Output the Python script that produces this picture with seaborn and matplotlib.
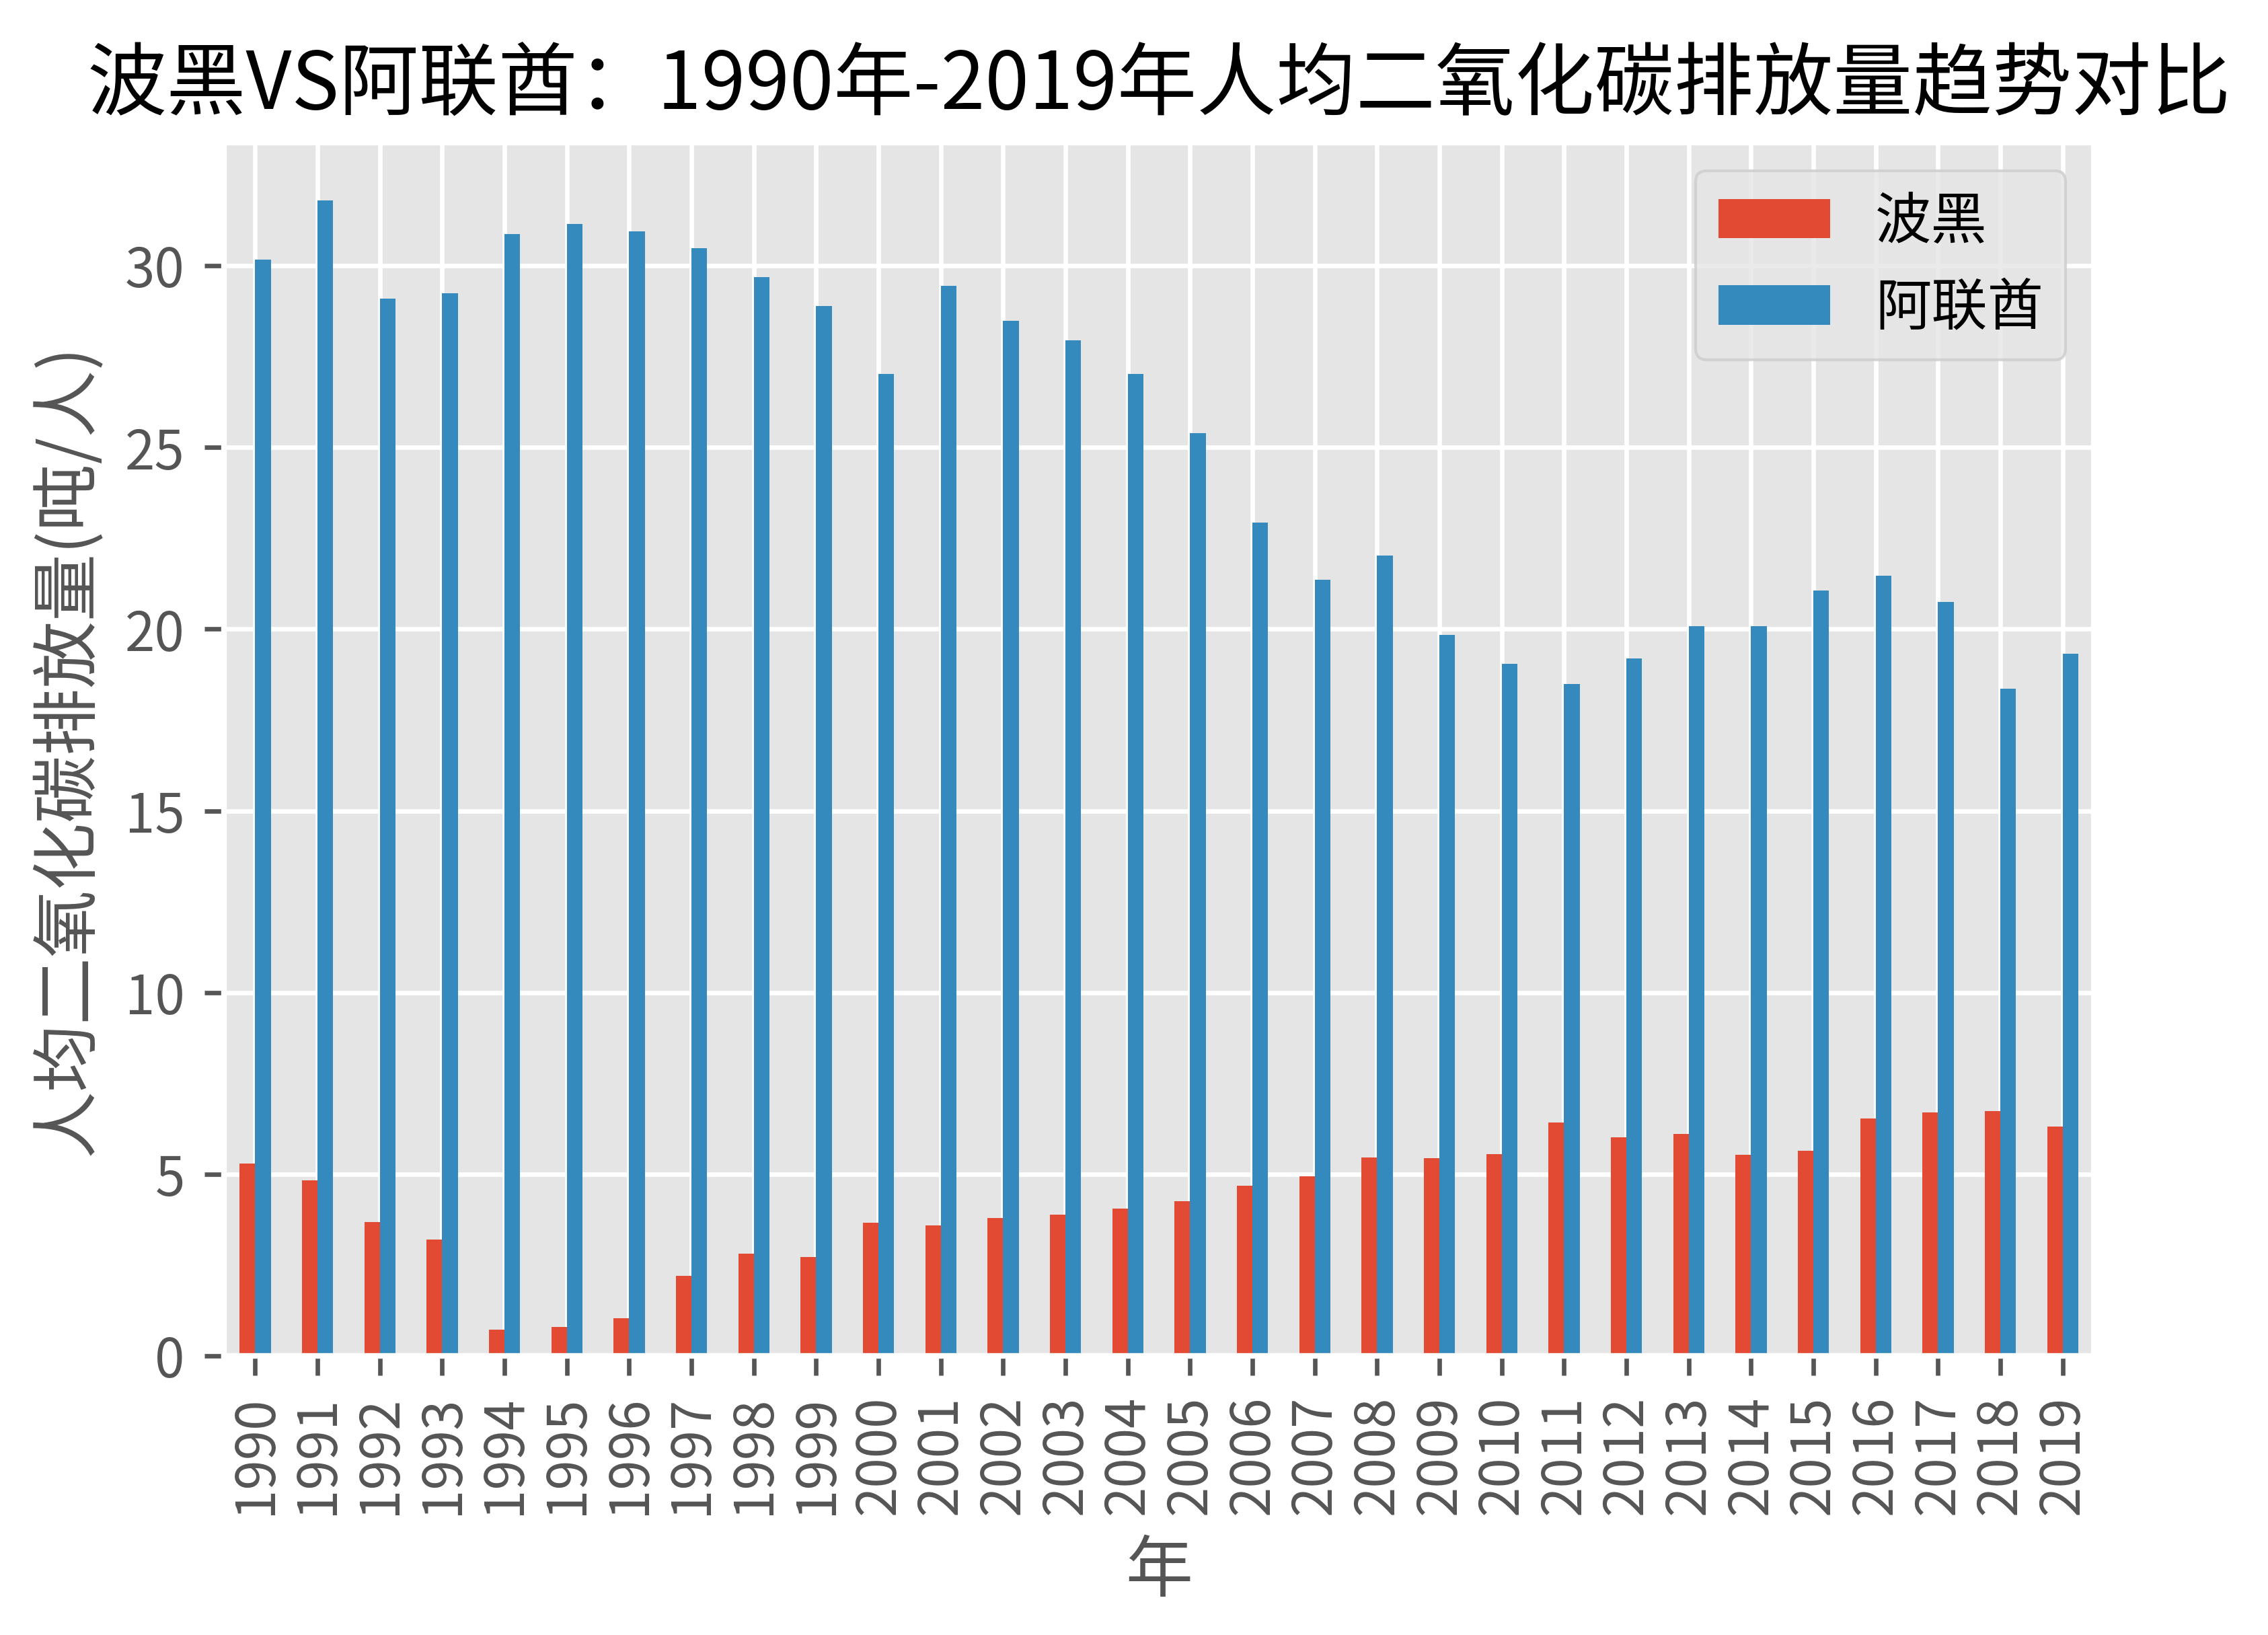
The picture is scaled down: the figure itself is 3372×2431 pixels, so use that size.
import matplotlib
matplotlib.use("Agg")
import matplotlib.pyplot as plt
import seaborn as sns
import pandas as pd

# 数据
years = [str(y) for y in range(1990, 2020)]
bih = [5.30, 4.84, 3.69, 3.21, 0.72, 0.79, 1.03, 2.20, 2.81, 2.73,
       3.66, 3.60, 3.80, 3.88, 4.06, 4.25, 4.69, 4.95, 5.46, 5.45,
       5.56, 6.42, 6.02, 6.11, 5.54, 5.65, 6.53, 6.70, 6.74, 6.31]
uae = [30.16, 31.80, 29.09, 29.25, 30.87, 31.15, 30.95, 30.48, 29.68, 28.89,
       27.02, 29.44, 28.49, 27.94, 27.02, 25.40, 22.94, 21.35, 22.02, 19.84,
       19.05, 18.49, 19.20, 20.08, 20.08, 21.07, 21.47, 20.75, 18.37, 19.33]
countries = ['波黑', '阿联酋']
colors = ['#E24A33', '#348ABD']

df = pd.DataFrame({'年': years * 2,
                   '国家': [countries[0]] * len(years) + [countries[1]] * len(years),
                   '排放量': bih + uae})

plt.style.use('ggplot')
plt.rcParams['font.family'] = ['Noto Sans CJK SC', 'DejaVu Sans']
plt.rcParams['axes.unicode_minus'] = False

fig = plt.figure(figsize=(3372 / 600, 2431 / 600), dpi=600)
ax = fig.add_axes([0.0988, 0.1707, 0.9232 - 0.0988, 0.9128 - 0.1707])

sns.barplot(data=df, x='年', y='排放量', hue='国家', order=years,
            hue_order=countries, palette=colors, width=0.5, saturation=1,
            errorbar=None, ax=ax)

ax.set_xlim(-0.5, len(years) - 0.5)
ax.set_axisbelow(True)
ax.grid(True, axis='both', color='white')
ax.set_title('波黑VS阿联酋：1990年-2019年人均二氧化碳排放量趋势对比', fontsize=14.2, color='black')
ax.set_xlabel('年', fontsize=12, color='#555555')
ax.set_ylabel('人均二氧化碳排放量(吨/人)', fontsize=12, color='#555555')
ax.tick_params(axis='both', labelsize=9.6, colors='#555555')
plt.xticks(rotation=90)

handles, labels = ax.get_legend_handles_labels()
ax.legend(handles, labels, loc='upper right', fontsize=10)

fig.savefig('out.png', dpi=600)
